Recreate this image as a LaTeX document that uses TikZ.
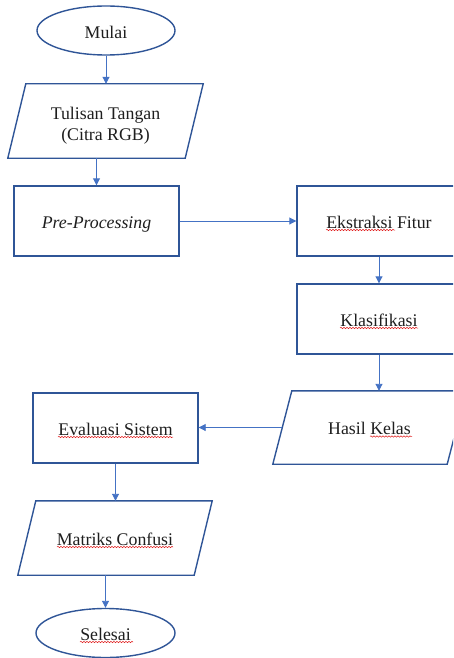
\documentclass[tikz,border=0pt]{standalone}
\usepackage{fontspec}
\setmainfont{Liberation Serif}
\usetikzlibrary{shapes.geometric,arrows.meta,calc,decorations.pathmorphing}
\definecolor{edge}{HTML}{2F5597}
\definecolor{arrowc}{HTML}{4472C4}
\definecolor{txt}{HTML}{1E1E1E}
\definecolor{spell}{HTML}{E02020}
\begin{document}
\begin{tikzpicture}[x=1pt,y=-1pt,
  every node/.style={font=\fontsize{17.8}{21}\selectfont, text=txt, align=center, inner sep=0pt},
  oneline/.style={text height=14pt, text depth=0pt},
  term/.style={ellipse, draw=edge, line width=1.4pt, minimum width=138pt, minimum height=49pt, oneline},
  procbox/.style={rectangle, draw=edge, line width=1.4pt, minimum width=165pt, minimum height=70pt, oneline},
  iobox/.style={rectangle, draw=none, minimum width=#1, minimum height=74pt},
  para/.style={draw=edge, line width=1.4pt, line join=miter},
  flow/.style={draw=arrowc, line width=0.9pt, -{Triangle[length=7pt,width=7pt]}},
  squig/.style={draw=spell, line width=0.5pt, decorate, decoration={snake, amplitude=0.7pt, segment length=3pt}}
]
\useasboundingbox (0,0) rectangle (453,658);
\clip (0,0) rectangle (453,658);

% nodes
\node[term, text height=17pt] (mulai) at (106,30.5) {Mulai};
\node[iobox=195pt] (tt) at (105.5,121) {};
\node (ttx) at ($(tt.center)+(0,4.5)$) {Tulisan Tangan\\(Citra RGB)};
\node[procbox] (pre) at (96.5,221) {\itshape Pre-Processing};
\node[procbox, minimum width=164pt] (ekst) at (379,221) {Ekstraksi Fitur};
\node[procbox, minimum width=164pt] (klas) at (379,319) {Klasifikasi};
\node[iobox=193pt, minimum height=73pt, oneline] (hasil) at (369.5,427.5) {Hasil Kelas};
\node[procbox] (eval) at (115.5,428) {Evaluasi Sistem};
\node[iobox=194pt, oneline] (mat) at (115,538) {Matriks Confusi};
\node[term, minimum width=139pt] (sel) at (105.5,633) {Selesai};

% parallelograms
\draw[para] ($(tt.north west)+(18,0)$) -- (tt.north east) -- ($(tt.south east)-(18,0)$) -- (tt.south west) -- cycle;
\draw[para] ($(hasil.north west)+(19,0)$) -- (hasil.north east) -- ($(hasil.south east)-(19,0)$) -- (hasil.south west) -- cycle;
\draw[para] ($(mat.north west)+(18,0)$) -- (mat.north east) -- ($(mat.south east)-(18,0)$) -- (mat.south west) -- cycle;
\coordinate (hasilW) at ($(hasil.west)+(9.5,0)$);

% spell-check underlines
\draw[squig] ($(ekst.base)+(-53,2)$) -- ($(ekst.base)+(16,2)$);
\draw[squig] ($(klas.base)+(-39,2)$) -- ($(klas.base)+(39,2)$);
\draw[squig] ($(eval.base)+(-57.5,2)$) -- ($(eval.base)+(57.5,2)$);
\draw[squig] ($(hasil.base)+(0.5,2)$) -- ($(hasil.base)+(42.5,2)$);
\draw[squig] ($(mat.base)+(-58,2)$) -- ($(mat.base)+(58,2)$);
\draw[squig] ($(sel.base)+(-25.5,2)$) -- ($(sel.base)+(27.5,2)$);

% connectors
\draw[flow] (mulai.south) -- (mulai.south |- tt.north);
\draw[flow] (tt.south -| pre.north) -- (pre.north);
\draw[flow] (pre.east) -- (ekst.west);
\draw[flow] (ekst.south) -- (klas.north);
\draw[flow] (klas.south) -- (klas.south |- hasil.north);
\draw[flow] (hasilW) -- (hasilW -| eval.east);
\draw[flow] (eval.south) -- (eval.south |- mat.north);
\draw[flow] (mat.south -| sel.north) -- (sel.north);
\end{tikzpicture}
\end{document}
